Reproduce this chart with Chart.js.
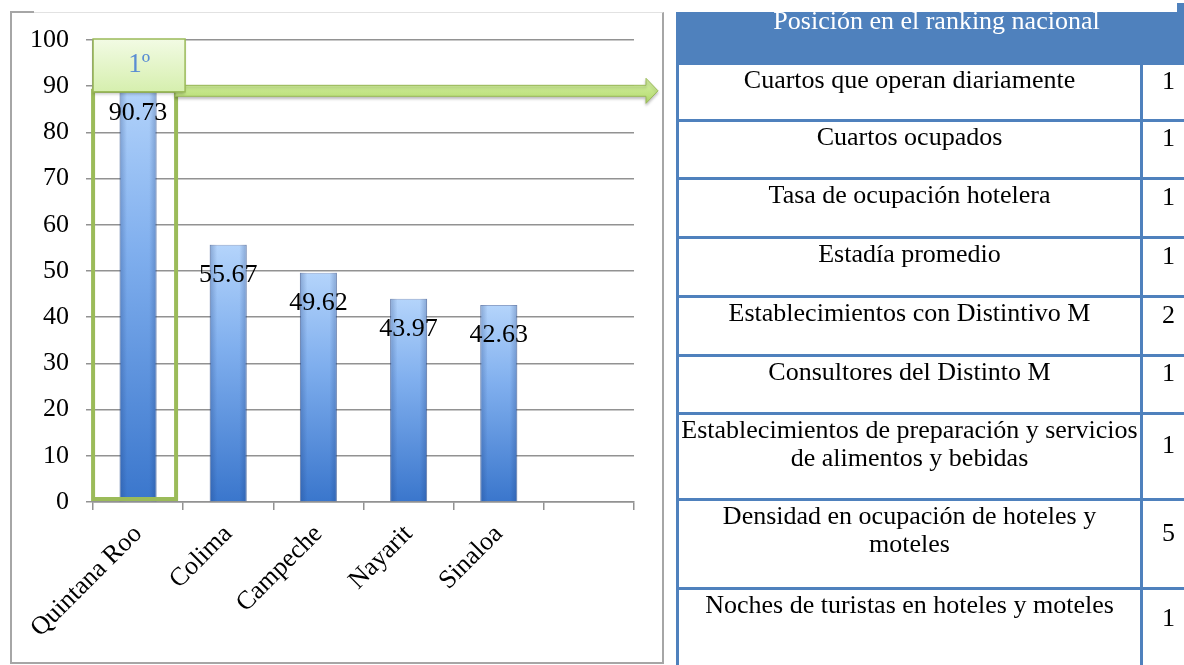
<!DOCTYPE html>
<html>
<head>
<meta charset="utf-8">
<script src="https://cdn.jsdelivr.net/npm/chart.js@4.4.1/dist/chart.umd.min.js"></script>
<style>
  html, body { margin: 0; padding: 0; background: #fff; }
  html { width: 1184px; height: 665px; overflow: hidden; }
  body { width: 1400px; height: 665px; position: relative; font-family: "Liberation Serif", serif; }
  #frame { position: absolute; left: 10px; top: 12px; width: 654px; height: 652px; box-sizing: border-box;
           border: 2px solid #a6a6a6; border-top: 1px solid #e2e2e2; }
  #frameCorner { position: absolute; left: 10px; top: 11px; width: 24px; height: 2px; background: #a6a6a6; }
  #chartBox { position: absolute; left: 0; top: 0; width: 680px; height: 665px; }
  #tableBox { position: absolute; left: 676px; top: 4px; width: 600px; }
  #rank { width: 518px; border-collapse: collapse; table-layout: fixed; }
  #rank td { border: 3px solid #4f81bd; font-size: 26px; line-height: 28px; color: #000; text-align: center; padding: 0; }
  #rank td.name { vertical-align: top; padding: 1px 2px 0 2px; }
  #rank td.pos { vertical-align: middle; padding-bottom: 23px; }
  #rank td.head { background: #4f81bd; color: #fff; vertical-align: top; }
  #mask { position: absolute; left: 668px; top: 0; width: 509px; height: 12px; background: #fff; }
  #notch { position: absolute; left: 1177px; top: 3px; width: 7px; height: 9px; background: #4f81bd; }
</style>
</head>
<body>
<div id="frame"></div>
<div id="frameCorner"></div>
<div id="chartBox"><canvas id="chart" width="680" height="665"></canvas></div>
<div id="tableBox">
  <table id="rank"><colgroup><col style="width:464px"><col style="width:54px"></colgroup><tbody id="rank-body"></tbody></table>
</div>
<div id="mask"></div>
<div id="notch"></div>
<script>
const categories = ["Quintana Roo", "Colima", "Campeche", "Nayarit", "Sinaloa", ""];
const values = [90.73, 55.67, 49.62, 43.97, 42.63, null];
const yMin = 0;
const yMax = 100;
const yStep = 10;
const highlightText = "1º";

const rankTitle = "Posición en el ranking nacional";
const rankNames = [
  "Cuartos que operan diariamente",
  "Cuartos ocupados",
  "Tasa de ocupación hotelera",
  "Estadía promedio",
  "Establecimientos con Distintivo M",
  "Consultores del Distinto M",
  "Establecimientos de preparación y servicios de alimentos y bebidas",
  "Densidad en ocupación de hoteles y moteles",
  "Noches de turistas en hoteles y moteles"
];
const rankPositions = [1, 1, 1, 1, 2, 1, 1, 5, 1];
const rowHeights = [58, 57, 58, 59, 59, 59, 58, 86, 89, 82];

// table
const rankBody = document.getElementById("rank-body");
const headRow = document.createElement("tr");
headRow.style.height = rowHeights[0] + "px";
headRow.innerHTML = `<td class="head" colspan="2">${rankTitle}</td>`;
rankBody.appendChild(headRow);
rankNames.forEach((name, i) => {
  const tr = document.createElement("tr");
  tr.style.height = rowHeights[i + 1] + "px";
  tr.innerHTML = `<td class="name">${name}</td><td class="pos">${rankPositions[i]}</td>`;
  rankBody.appendChild(tr);
});

const serif = "'Liberation Serif', 'Times New Roman', serif";
const gridColor = "#929292";

function barFill(c) {
  const chart = c.chart;
  if (!chart.chartArea || c.type !== "data" || c.raw == null) return "#5b8fd6";
  const y = chart.scales.y;
  const top = y.getPixelForValue(c.raw);
  const base = y.getPixelForValue(0);
  const g = chart.ctx.createLinearGradient(0, top, 0, base);
  g.addColorStop(0, "#b4d4fb");
  g.addColorStop(0.4, "#80afee");
  g.addColorStop(1, "#3a76cc");
  return g;
}

// shading on bar edges + value labels
const barLabels = {
  id: "barLabels",
  afterDatasetsDraw(chart) {
    const ctx = chart.ctx;
    const meta = chart.getDatasetMeta(0);
    meta.data.forEach((bar, i) => {
      if (values[i] == null) return;
      const w = bar.width;
      const left = bar.x - w / 2;
      const h = bar.base - bar.y;
      const g = ctx.createLinearGradient(left, 0, left + w, 0);
      g.addColorStop(0, "rgba(20,50,110,0.28)");
      g.addColorStop(0.2, "rgba(20,50,110,0)");
      g.addColorStop(0.8, "rgba(20,50,110,0)");
      g.addColorStop(1, "rgba(20,50,110,0.28)");
      ctx.save();
      ctx.fillStyle = g;
      ctx.fillRect(left, bar.y, w, h);
      ctx.restore();
    });
    ctx.save();
    ctx.font = "26px " + serif;
    ctx.fillStyle = "#000";
    ctx.textAlign = "center";
    ctx.textBaseline = "alphabetic";
    meta.data.forEach((bar, i) => {
      if (values[i] == null) return;
      ctx.fillText(values[i].toFixed(2), bar.x, bar.y + 37);
    });
    ctx.restore();
  }
};

// green frame, arrow and the "1º" tag around the first bar
const highlight = {
  id: "highlight",
  afterDatasetsDraw(chart) {
    const ctx = chart.ctx;
    const x = chart.scales.x, y = chart.scales.y;
    const cx = x.getPixelForValue(0);
    const level = y.getPixelForValue(89);
    const base = y.getPixelForValue(0);
    ctx.save();
    // frame
    ctx.strokeStyle = "#9bbb59";
    ctx.lineWidth = 4;
    ctx.strokeRect(cx - 45, level, 83, base - 3 - level);
    // arrow
    const boxRight = cx + 47;
    const tip = chart.width - 22;
    const headStart = tip - 12;
    ctx.shadowColor = "rgba(0,0,0,0.25)";
    ctx.shadowBlur = 3;
    ctx.shadowOffsetY = 2;
    const ag = ctx.createLinearGradient(0, level - 12, 0, level + 12);
    ag.addColorStop(0, "#d8f2a8");
    ag.addColorStop(1, "#b2da6c");
    ctx.fillStyle = ag;
    ctx.strokeStyle = "#9bbb59";
    ctx.lineWidth = 1;
    ctx.beginPath();
    ctx.moveTo(boxRight - 10, level - 5.5);
    ctx.lineTo(headStart, level - 5.5);
    ctx.lineTo(headStart, level - 12.5);
    ctx.lineTo(tip, level);
    ctx.lineTo(headStart, level + 12.5);
    ctx.lineTo(headStart, level + 5.5);
    ctx.lineTo(boxRight - 10, level + 5.5);
    ctx.closePath();
    ctx.fill();
    ctx.stroke();
    // tag box
    const bTop = y.getPixelForValue(100) - 1;
    const bBottom = level + 1;
    const bg = ctx.createLinearGradient(0, bTop, 0, bBottom);
    bg.addColorStop(0, "#f2fbe4");
    bg.addColorStop(1, "#d6efae");
    ctx.fillStyle = bg;
    ctx.strokeStyle = "#9bbb59";
    ctx.lineWidth = 1.5;
    ctx.fillRect(cx - 45, bTop, 92, bBottom - bTop);
    ctx.shadowColor = "transparent";
    ctx.strokeRect(cx - 45, bTop, 92, bBottom - bTop);
    ctx.font = "27px " + serif;
    ctx.fillStyle = "#5a8dd3";
    ctx.textAlign = "center";
    ctx.textBaseline = "middle";
    ctx.fillText(highlightText, cx + 1, (bTop + bBottom) / 2 - 1);
    ctx.restore();
  }
};

new Chart(document.getElementById("chart"), {
  type: "bar",
  data: {
    labels: categories,
    datasets: [{
      data: values,
      backgroundColor: barFill,
      borderColor: "rgba(50,90,160,0.55)",
      borderWidth: 1,
      barPercentage: 0.41,
      categoryPercentage: 1
    }]
  },
  options: {
    responsive: false,
    animation: false,
    layout: { padding: { left: 0, top: 40, right: 46, bottom: 0 } },
    plugins: { legend: { display: false }, tooltip: { enabled: false } },
    scales: {
      x: {
        grid: { drawOnChartArea: false, drawTicks: true, tickLength: 8, color: gridColor, lineWidth: 1.5, offset: true },
        border: { color: gridColor, width: 1.5 },
        ticks: { color: "#000", font: { family: serif, size: 26 }, minRotation: 45, maxRotation: 45, autoSkip: false, padding: 9 },
        afterFit(s) { s.height = 163; }
      },
      y: {
        min: yMin,
        max: yMax,
        grid: { color: gridColor, lineWidth: 1.5, tickLength: 7 },
        border: { color: gridColor, width: 1.5 },
        ticks: { stepSize: yStep, color: "#000", font: { family: serif, size: 26 }, padding: 17 },
        afterFit(s) { s.width = 93; }
      }
    }
  },
  plugins: [barLabels, highlight]
});
</script>
</body>
</html>
